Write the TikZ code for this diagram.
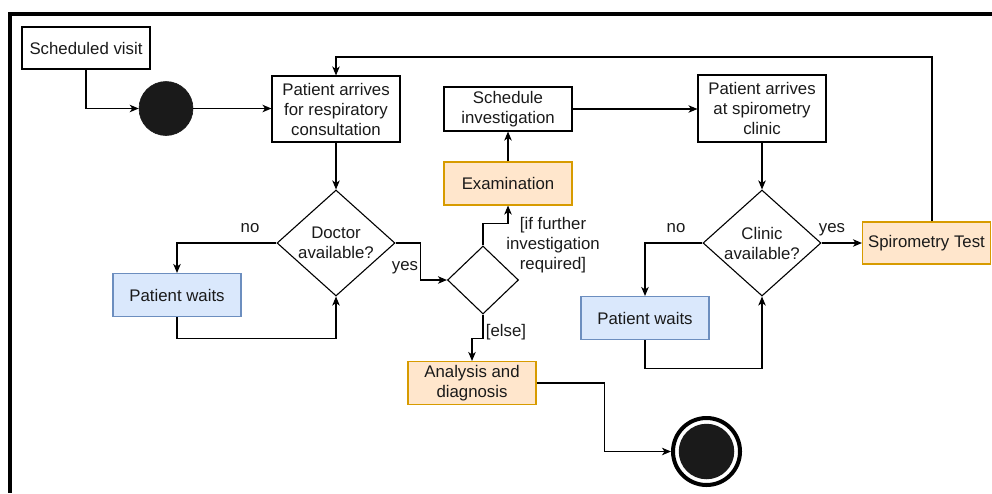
\documentclass[tikz,border=0pt]{standalone}
\usepackage{fontspec}
\setmainfont{Liberation Sans}
\usetikzlibrary{shapes.geometric,arrows.meta}
\definecolor{bluefill}{HTML}{DAE8FC}
\definecolor{blueline}{HTML}{6C8EBF}
\definecolor{orangefill}{HTML}{FFE6CC}
\definecolor{orangeline}{HTML}{D79B00}
\definecolor{ink}{HTML}{1A1A1A}
\begin{document}
\begin{tikzpicture}[x=1pt,y=-1pt,
  every node/.style={font=\fontsize{16.8}{20}\selectfont, text=ink},
  box/.style={draw=black, line width=1.1pt, minimum width=128pt, minimum height=43pt,
    inner sep=0pt, align=center},
  waitbox/.style={box, draw=blueline, fill=bluefill},
  actbox/.style={box, draw=orangeline, fill=orangefill},
  choice/.style={draw=black, line width=1.1pt, diamond, inner sep=0pt},
  lbl/.style={inner sep=0pt, align=center},
  arr/.style={draw=black, line width=1.1pt, -{Stealth[length=9pt,width=7.5pt,inset=2.5pt]}},
]
\useasboundingbox (0,0) rectangle (992,493);
\fill[white] (0,0) rectangle (992,493);
% outer frame
\draw[line width=4pt] (992,14) -- (10,14) -- (10,493);

% nodes
\node[box, minimum height=42pt] (sv) at (86,48) {Scheduled visit};
\node[circle, fill=ink, draw=ink, line width=0.6pt, minimum size=54pt, inner sep=0pt] (start) at (166,108.5) {};
\node[box, minimum height=66pt] (pa) at (336,109) {Patient arrives\\for respiratory\\consultation};
\node[choice, minimum width=118pt, minimum height=106pt] (doc) at (336,243) {};
\node[lbl] (doct) at (336,243) {Doctor\\available?};
\node[waitbox] (pw1) at (177,295) {Patient waits};
\node[choice, minimum width=71pt, minimum height=68pt] (dec) at (483,280) {};
\node[actbox] (exam) at (508,183.5) {Examination};
\node[box, minimum height=44pt] (si) at (508,109) {Schedule\\investigation};
\node[actbox] (ana) at (472,383) {Analysis and\\diagnosis};
\node[circle, draw=black, line width=4pt, minimum size=67pt, inner sep=0pt] (end) at (706.5,451.5) {};
\node[circle, fill=ink, minimum size=55.5pt, inner sep=0pt] (endc) at (706.5,451.5) {};
\node[box, minimum height=67pt] (psc) at (762,108.5) {Patient arrives\\at spirometry\\clinic};
\node[choice, minimum width=118pt, minimum height=106pt] (cli) at (762,243) {};
\node[lbl] (clit) at (762,243) {Clinic\\available?};
\node[waitbox] (pw2) at (645,318) {Patient waits};
\node[actbox, minimum height=42pt] (st) at (926.5,243) {Spirometry Test};
\coordinate (topr) at (932,57);

% labels
\node[lbl] (no1) at (250,228) {no};
\node[lbl] (yes1) at (405,268) {yes};
\node[lbl] (ifl) at (553,245) {[if further\\investigation\\required]};
\node[lbl] (elsel) at (506,332) {[else]};
\node[lbl] (no2) at (676,228) {no};
\node[lbl] (yes2) at (832,230) {yes};

% connectors
\draw[arr] (sv.south) |- (start.west);
\draw[arr] (start.east) -- (start.east -| pa.west);
\draw[arr] (pa.south) -- (doc.north);
\draw[arr] (doc.west) -| (pw1.north);
\draw[arr] (pw1.south) -- ++(0,21) -| (doc.south);
\draw[arr] (doc.east) -- ++(25,0) |- (dec.west);
\draw[arr] (dec.north) -- ++(0,-22) -| (exam.south);
\draw[arr] (exam.north) -- (si.south);
\draw[arr] (si.east) -- (si.east -| psc.west);
\draw[arr] (dec.south) -- ++(0,24) -| (ana.north);
\draw[arr] (ana.east) -- ++(68,0) |- (end.west);
\draw[arr] (psc.south) -- (cli.north);
\draw[arr] (cli.west) -| (pw2.north);
\draw[arr] (pw2.south) -- ++(0,28) -| (cli.south);
\draw[arr] (cli.east) -- (st.west);
\draw[arr] ([xshift=5.5pt]st.north) -- (topr) -| (pa.north);
\end{tikzpicture}
\end{document}
